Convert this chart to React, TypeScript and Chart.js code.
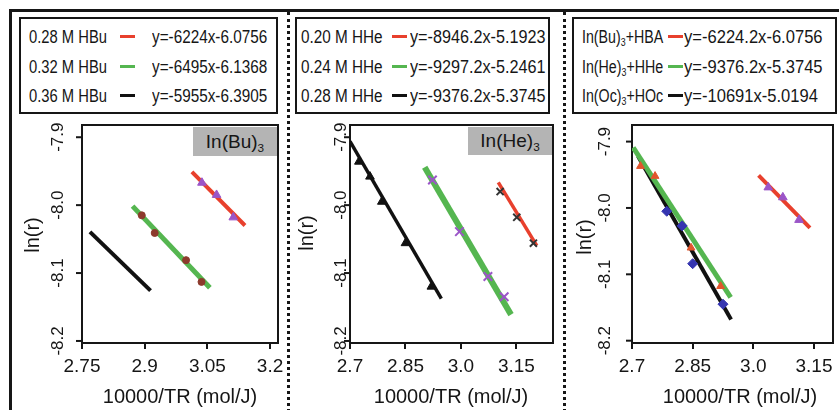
import React, { useEffect, useRef } from "react";
import { Chart, registerables } from "chart.js";

Chart.register(...registerables);

const FONT = '"Liberation Sans", Arial, Helvetica, sans-serif';
const INK = "#161616";
const RED = "#e8402d";
const GREEN = "#55b650";
const BLACK = "#111111";
const PURPLE = "#9b55c8";
const BROWN = "#8c3a2c";
const BLUE = "#3535b0";
const ORANGE = "#e2552c";
const DARKX = "#333333";

// ---- shared axis text ----
const yTickValues = [-7.9, -8.0, -8.1, -8.2];
const yTickLabels = ["-7.9", "-8.0", "-8.1", "-8.2"];
const xTitle = "10000/TR (mol/J)";
const yTitle = "ln(r)";

// ---- Panel 1: In(Bu)3 ----
const p1XTickValues = [2.75, 2.9, 3.05, 3.2];
const p1XTickLabels = ["2.75", "2.9", "3.05", "3.2"];
const p1Names = ["0.28 M HBu", "0.32 M HBu", "0.36 M HBu"];
const p1Equations = ["y=-6224x-6.0756", "y=-6495x-6.1368", "y=-5955x-6.3905"];
const p1Tag = "In(Bu)_3";
const p1RedFitX = [3.013, 3.14];
const p1RedFitY = [-7.951, -8.03];
const p1GreenFitX = [2.871, 3.056];
const p1GreenFitY = [-8.0015, -8.1217];
const p1BlackFitX = [2.769, 2.914];
const p1BlackFitY = [-8.0394, -8.1258];
const p1RedPtsX = [3.037, 3.072, 3.112];
const p1RedPtsY = [-7.967, -7.985, -8.018];
const p1GreenPtsX = [2.893, 2.924, 2.999, 3.036];
const p1GreenPtsY = [-8.015, -8.041, -8.081, -8.113];

// ---- Panel 2: In(He)3 ----
const p2XTickValues = [2.7, 2.85, 3.0, 3.15];
const p2XTickLabels = ["2.7", "2.85", "3.0", "3.15"];
const p2Names = ["0.20 M HHe", "0.24 M HHe", "0.28 M HHe"];
const p2Equations = ["y=-8946.2x-5.1923", "y=-9297.2x-5.2461", "y=-9376.2x-5.3745"];
const p2Tag = "In(He)_3";
const p2RedFitX = [3.101, 3.205];
const p2RedFitY = [-7.9665, -8.0596];
const p2GreenFitX = [2.902, 3.1355];
const p2GreenFitY = [-7.9442, -8.1612];
const p2BlackFitX = [2.7, 2.947];
const p2BlackFitY = [-7.9061, -8.1377];
const p2BlackPtsX = [2.724, 2.754, 2.786, 2.85, 2.92];
const p2BlackPtsY = [-7.936, -7.958, -7.995, -8.056, -8.12];
const p2GreenPtsX = [2.923, 2.996, 3.073, 3.117];
const p2GreenPtsY = [-7.963, -8.039, -8.105, -8.135];
const p2RedPtsX = [3.106, 3.151, 3.196];
const p2RedPtsY = [-7.98, -8.018, -8.056];

// ---- Panel 3: comparison ----
const p3XTickValues = [2.7, 2.85, 3.0, 3.15];
const p3XTickLabels = ["2.7", "2.85", "3.0", "3.15"];
const p3Names = ["In(Bu)_3+HBA", "In(He)_3+HHe", "In(Oc)_3+HOc"];
const p3Equations = ["y=-6224.2x-6.0756", "y=-9376.2x-5.3745", "y=-10691x-5.0194"];
const p3RedFitX = [3.013, 3.14];
const p3RedFitY = [-7.951, -8.03];
const p3GreenFitX = [2.703, 2.944];
const p3GreenFitY = [-7.9089, -8.1348];
const p3BlackFitX = [2.715, 2.945];
const p3BlackFitY = [-7.922, -8.168];
const p3BuPtsX = [3.037, 3.073, 3.113];
const p3BuPtsY = [-7.969, -7.984, -8.018];
const p3HePtsX = [2.721, 2.757, 2.846, 2.919];
const p3HePtsY = [-7.937, -7.952, -8.06, -8.118];
const p3OcPtsX = [2.786, 2.824, 2.85, 2.925];
const p3OcPtsY = [-8.005, -8.027, -8.084, -8.145];

const pts = (xs: number[], ys: number[]) => xs.map((x, i) => ({ x, y: ys[i] }));

const fit = (xs: number[], ys: number[], color: string, width: number) => ({
  data: pts(xs, ys),
  showLine: true,
  borderColor: color,
  backgroundColor: color,
  borderWidth: width,
  pointRadius: 0,
  order: 2,
});

const marks = (xs: number[], ys: number[], style: string, color: string, radius: number, bw = 1) => ({
  data: pts(xs, ys),
  showLine: false,
  pointStyle: style,
  pointRadius: radius,
  backgroundColor: color,
  borderColor: color,
  pointBorderWidth: bw,
  order: 1,
});

function withSub(s: string) {
  const i = s.indexOf("_");
  if (i < 0) return s;
  return (
    <>
      {s.slice(0, i)}
      <sub style={{ fontSize: "0.62em", verticalAlign: "-0.3em", lineHeight: 0 }}>{s[i + 1]}</sub>
      {s.slice(i + 2)}
    </>
  );
}

type Geo = {
  canvas: { left: number; top: number; w: number; h: number };
  area: { left: number; top: number; right: number; bottom: number };
  xRange: [number, number];
  yRange: [number, number];
  yLabelX: number;
  yTitleX: number;
  yTitleY: number;
  xTitleX: number;
  xTitleY: number;
};

function PanelChart({ g, xTickValues, xTickLabels, datasets }: { g: Geo; xTickValues: number[]; xTickLabels: string[]; datasets: any[] }) {
  const ref = useRef<HTMLCanvasElement>(null);
  useEffect(() => {
    const c = ref.current!;
    const ox = g.canvas.left;
    const oy = g.canvas.top;
    const yW = g.area.left - ox;
    const padT = g.area.top - oy;
    const padR = ox + g.canvas.w - g.area.right;
    const xH = oy + g.canvas.h - g.area.bottom;
    const decor = {
      id: "panelDecor",
      beforeDatasetsDraw(chart: any) {
        const ctx = chart.ctx as CanvasRenderingContext2D;
        const { left, top, right, bottom } = chart.chartArea;
        ctx.save();
        ctx.strokeStyle = INK;
        ctx.lineWidth = 2;
        ctx.strokeRect(left, top, right - left, bottom - top);
        const ys = chart.scales.y;
        ctx.fillStyle = INK;
        ctx.textAlign = "center";
        ctx.textBaseline = "middle";
        ctx.font = `17px ${FONT}`;
        yTickValues.forEach((v, i) => {
          const py = ys.getPixelForValue(v);
          ctx.beginPath();
          ctx.moveTo(left - 6, py);
          ctx.lineTo(left, py);
          ctx.stroke();
          ctx.save();
          ctx.translate(g.yLabelX - ox, py);
          ctx.rotate(-Math.PI / 2);
          ctx.fillText(yTickLabels[i], 0, 0);
          ctx.restore();
        });
        ctx.font = `20px ${FONT}`;
        ctx.save();
        ctx.translate(g.yTitleX - ox, g.yTitleY - oy);
        ctx.rotate(-Math.PI / 2);
        ctx.fillText(yTitle, 0, 0);
        ctx.restore();
        ctx.fillText(xTitle, g.xTitleX - ox, g.xTitleY - oy);
        ctx.restore();
      },
    };
    const chart = new Chart(c, {
      type: "scatter",
      data: { datasets },
      options: {
        responsive: false,
        animation: false,
        devicePixelRatio: 1,
        layout: { padding: { left: 0, top: padT, right: padR, bottom: 0 } },
        plugins: { legend: { display: false }, tooltip: { enabled: false }, title: { display: false } },
        scales: {
          x: {
            type: "linear",
            position: "bottom",
            min: g.xRange[0],
            max: g.xRange[1],
            afterBuildTicks: (s: any) => {
              s.ticks = xTickValues.map((v) => ({ value: v }));
            },
            afterFit: (s: any) => {
              s.height = xH;
              s.paddingLeft = 0;
              s.paddingRight = 0;
            },
            ticks: {
              autoSkip: false,
              maxRotation: 0,
              minRotation: 0,
              padding: 6,
              color: INK,
              font: { family: FONT, size: 19 },
              callback: (_v: any, i: number) => xTickLabels[i],
            },
            grid: { display: true, drawOnChartArea: false, drawTicks: true, tickLength: 6, color: INK, lineWidth: 2 },
            border: { display: true, color: INK, width: 2 },
          },
          y: {
            type: "linear",
            min: g.yRange[0],
            max: g.yRange[1],
            afterFit: (s: any) => {
              s.width = yW;
              s.paddingTop = 0;
              s.paddingBottom = 0;
            },
            ticks: { display: false },
            grid: { display: false },
            border: { display: false },
          },
        },
      } as any,
      plugins: [decor],
    });
    return () => chart.destroy();
  }, []);
  return (
    <canvas
      ref={ref}
      width={g.canvas.w}
      height={g.canvas.h}
      style={{ position: "absolute", left: g.canvas.left, top: g.canvas.top, width: g.canvas.w, height: g.canvas.h }}
    />
  );
}

type LegendGeo = {
  box: { left: number; top: number; w: number; h: number };
  labelX: number;
  dashX: number;
  eqX: number;
  rowY: number[];
  labelScale: number;
  eqScale: number;
};

const LEG_SIZE = 18;

function LegendBox({ g, names, equations, colors }: { g: LegendGeo; names: string[]; equations: string[]; colors: string[] }) {
  const txt = (left: number, y: number, scale: number) => ({
    position: "absolute" as const,
    display: "inline-block",
    left,
    top: y - 10.6,
    fontSize: LEG_SIZE,
    lineHeight: `${LEG_SIZE * 1.2}px`,
    whiteSpace: "nowrap" as const,
    transform: `scaleX(${scale})`,
    transformOrigin: "0 50%",
  });
  return (
    <>
      <div
        style={{
          position: "absolute",
          left: g.box.left,
          top: g.box.top,
          width: g.box.w,
          height: g.box.h,
          border: `2px solid ${INK}`,
          boxSizing: "border-box",
        }}
      />
      {names.map((n, i) => (
        <React.Fragment key={i}>
          <span style={txt(g.labelX, g.rowY[i], g.labelScale)}>{withSub(n)}</span>
          <div
            style={{
              position: "absolute",
              left: g.dashX,
              top: g.rowY[i] - 3,
              width: 15,
              height: 3,
              background: colors[i],
            }}
          />
          <span style={txt(g.eqX, g.rowY[i], g.eqScale)}>{equations[i]}</span>
        </React.Fragment>
      ))}
    </>
  );
}

function Tag({ left, top, w, h, text }: { left: number; top: number; w: number; h: number; text: string }) {
  return (
    <div
      style={{
        position: "absolute",
        left,
        top,
        width: w,
        height: h,
        background: "#b4b4b4",
        fontSize: 19,
        lineHeight: `${h}px`,
        textAlign: "center",
        whiteSpace: "nowrap",
      }}
    >
      {withSub(text)}
    </div>
  );
}

const g1: Geo = {
  canvas: { left: 12, top: 114, w: 274, h: 296 },
  area: { left: 82, top: 125, right: 278, bottom: 343 },
  xRange: [2.75, 3.219],
  yRange: [-8.203, -7.882],
  yLabelX: 58,
  yTitleX: 33,
  yTitleY: 235,
  xTitleX: 180,
  xTitleY: 397,
};
const g2: Geo = {
  canvas: { left: 291, top: 114, w: 270, h: 296 },
  area: { left: 350, top: 125, right: 553, bottom: 343 },
  xRange: [2.7, 3.249],
  yRange: [-8.203, -7.882],
  yLabelX: 341,
  yTitleX: 307,
  yTitleY: 233,
  xTitleX: 451,
  xTitleY: 397,
};
const g3: Geo = {
  canvas: { left: 567, top: 114, w: 272, h: 296 },
  area: { left: 632, top: 125, right: 837, bottom: 343 },
  xRange: [2.7, 3.197],
  yRange: [-8.2035, -7.875],
  yLabelX: 605,
  yTitleX: 585,
  yTitleY: 237,
  xTitleX: 740,
  xTitleY: 397,
};

const l1: LegendGeo = { box: { left: 19, top: 17, w: 259, h: 97 }, labelX: 29, dashX: 120, eqX: 152, rowY: [38, 68, 97], labelScale: 0.82, eqScale: 0.85 };
const l2: LegendGeo = { box: { left: 295, top: 17, w: 255, h: 97 }, labelX: 301, dashX: 392, eqX: 410, rowY: [38, 68, 97], labelScale: 0.85, eqScale: 0.9 };
const l3: LegendGeo = { box: { left: 572, top: 17, w: 265, h: 97 }, labelX: 582, dashX: 668, eqX: 684, rowY: [38, 68, 97], labelScale: 0.79, eqScale: 0.92 };

export default function App() {
  const d1 = [
    marks(p1RedPtsX, p1RedPtsY, "triangle", PURPLE, 5),
    marks(p1GreenPtsX, p1GreenPtsY, "circle", BROWN, 3.5),
    fit(p1RedFitX, p1RedFitY, RED, 4),
    fit(p1GreenFitX, p1GreenFitY, GREEN, 5),
    fit(p1BlackFitX, p1BlackFitY, BLACK, 4),
  ];
  const d2 = [
    marks(p2BlackPtsX, p2BlackPtsY, "triangle", BLACK, 5),
    marks(p2GreenPtsX, p2GreenPtsY, "crossRot", PURPLE, 6, 2),
    marks(p2RedPtsX, p2RedPtsY, "crossRot", DARKX, 5, 2),
    fit(p2RedFitX, p2RedFitY, RED, 3.5),
    fit(p2GreenFitX, p2GreenFitY, GREEN, 6),
    fit(p2BlackFitX, p2BlackFitY, BLACK, 3.5),
  ];
  const d3 = [
    marks(p3BuPtsX, p3BuPtsY, "triangle", PURPLE, 5),
    marks(p3HePtsX, p3HePtsY, "triangle", ORANGE, 4.5),
    marks(p3OcPtsX, p3OcPtsY, "rectRot", BLUE, 5),
    fit(p3RedFitX, p3RedFitY, RED, 4),
    fit(p3GreenFitX, p3GreenFitY, GREEN, 5),
    fit(p3BlackFitX, p3BlackFitY, BLACK, 4),
  ];
  const legendColors = [RED, GREEN, BLACK];
  return (
    <div
      style={{
        position: "fixed",
        left: 0,
        top: 0,
        width: 839,
        height: 410,
        background: "#fff",
        overflow: "hidden",
        fontFamily: FONT,
        color: INK,
      }}
    >
      <div style={{ position: "absolute", left: 9, top: 9, width: 900, height: 500, borderTop: `3px solid ${INK}`, borderLeft: `3px solid ${INK}` }} />
      <div style={{ position: "absolute", left: 287, top: 12, height: 400, borderLeft: `3px dotted ${INK}` }} />
      <div style={{ position: "absolute", left: 563, top: 12, height: 400, borderLeft: `3px dotted ${INK}` }} />
      <LegendBox g={l1} names={p1Names} equations={p1Equations} colors={legendColors} />
      <LegendBox g={l2} names={p2Names} equations={p2Equations} colors={legendColors} />
      <LegendBox g={l3} names={p3Names} equations={p3Equations} colors={legendColors} />
      <PanelChart g={g1} xTickValues={p1XTickValues} xTickLabels={p1XTickLabels} datasets={d1} />
      <PanelChart g={g2} xTickValues={p2XTickValues} xTickLabels={p2XTickLabels} datasets={d2} />
      <PanelChart g={g3} xTickValues={p3XTickValues} xTickLabels={p3XTickLabels} datasets={d3} />
      <Tag left={193} top={127} w={84} h={29} text={p1Tag} />
      <Tag left={468} top={127} w={84} h={28} text={p2Tag} />
    </div>
  );
}
